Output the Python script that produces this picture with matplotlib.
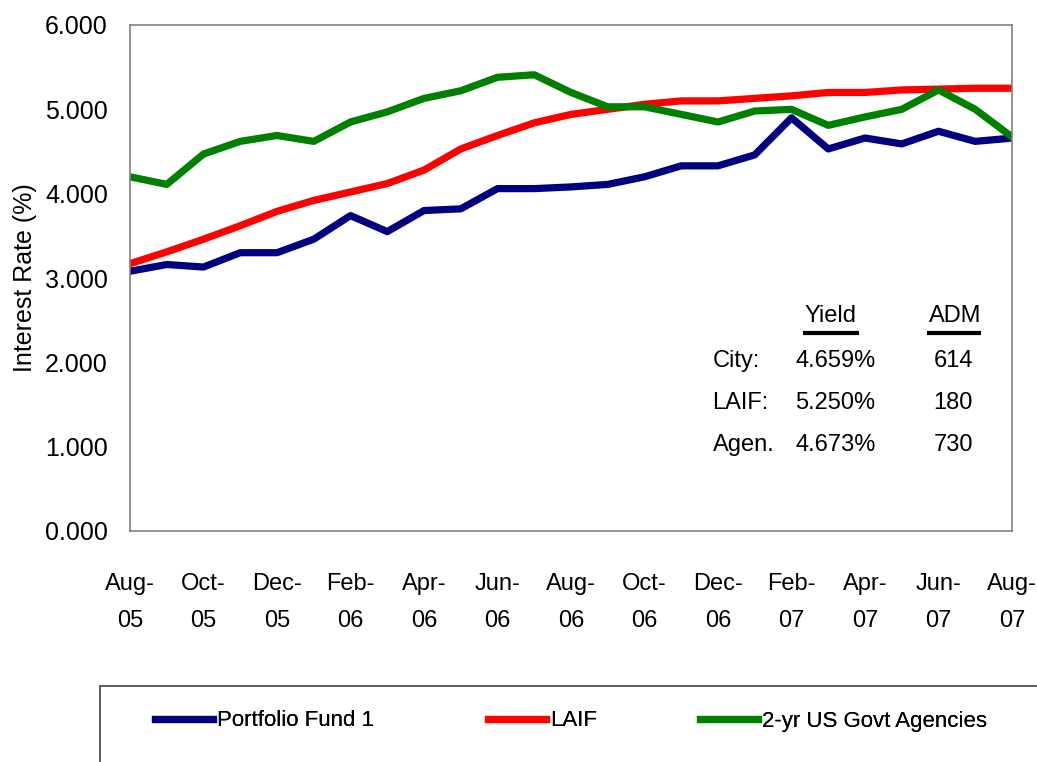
import matplotlib
matplotlib.use('Agg')
import matplotlib.pyplot as plt
from matplotlib import font_manager
from matplotlib.patches import Rectangle

months = ['Aug-05', 'Sep-05', 'Oct-05', 'Nov-05', 'Dec-05', 'Jan-06', 'Feb-06', 'Mar-06',
          'Apr-06', 'May-06', 'Jun-06', 'Jul-06', 'Aug-06', 'Sep-06', 'Oct-06', 'Nov-06',
          'Dec-06', 'Jan-07', 'Feb-07', 'Mar-07', 'Apr-07', 'May-07', 'Jun-07', 'Jul-07',
          'Aug-07']
fund1 = [3.08, 3.16, 3.13, 3.30, 3.30, 3.46, 3.74, 3.55, 3.80, 3.82, 4.06, 4.06, 4.08,
         4.11, 4.20, 4.33, 4.33, 4.46, 4.90, 4.53, 4.66, 4.59, 4.74, 4.62, 4.659]
laif = [3.17, 3.31, 3.46, 3.62, 3.79, 3.92, 4.02, 4.12, 4.28, 4.53, 4.69, 4.84, 4.94,
        5.00, 5.06, 5.10, 5.10, 5.13, 5.16, 5.20, 5.20, 5.23, 5.24, 5.25, 5.25]
agencies = [4.20, 4.11, 4.47, 4.62, 4.69, 4.62, 4.85, 4.97, 5.13, 5.22, 5.38, 5.41, 5.20,
            5.03, 5.03, 4.94, 4.85, 4.98, 5.00, 4.81, 4.91, 5.00, 5.23, 5.00, 4.673]

rows = ['City:', 'LAIF:', 'Agen.']
yields = ['4.659%', '5.250%', '4.673%']
adm = ['614', '180', '730']

names = set(f.name for f in font_manager.fontManager.ttflist)
family = 'Liberation Sans Narrow' if 'Liberation Sans Narrow' in names else 'Liberation Sans'
plt.rcParams['font.family'] = [family, 'DejaVu Sans']

fig = plt.figure(figsize=(10.37, 7.62), dpi=100)
ax = fig.add_axes([130 / 1037, 1 - 531 / 762, 882 / 1037, 506 / 762])

x = list(range(len(months)))
ax.plot(x, fund1, color='#000080', lw=5.2, label='Portfolio Fund 1')
ax.plot(x, laif, color='#ff0000', lw=5.2, label='LAIF')
ax.plot(x, agencies, color='#008000', lw=5.2, label='2-yr US Govt Agencies')

ax.set_xlim(0, len(months) - 1)
ax.set_ylim(0, 6)
ax.set_yticks(range(7))
ax.set_yticklabels([f'{v:.3f}' for v in range(7)], fontsize=18)
ax.set_xticks(x[::2])
ax.set_xticklabels([m.replace('-', '-\n') for m in months[::2]], fontsize=17, linespacing=1.9)
ax.tick_params(length=0)
ax.tick_params(axis='y', pad=16)
ax.tick_params(axis='x', pad=30)
ax.set_ylabel('Interest Rate (%)', fontsize=18, labelpad=6)
for s in ax.spines.values():
    s.set_color('#808080')
    s.set_linewidth(1.2)

# summary table
fs = 17
ax.text(19.05, 2.55, 'Yield', ha='center', va='center', fontsize=fs)
ax.text(22.45, 2.55, 'ADM', ha='center', va='center', fontsize=fs)
ax.hlines(2.35, 18.3, 19.85, color='black', lw=3)
ax.hlines(2.35, 21.7, 23.15, color='black', lw=3)
for i, r in enumerate(rows):
    yy = 2.02 - i * 0.5
    ax.text(15.85, yy, r, ha='left', va='center', fontsize=fs)
    ax.text(18.1, yy, yields[i], ha='left', va='center', fontsize=fs)
    ax.text(22.4, yy, adm[i], ha='center', va='center', fontsize=fs)

fig.patches.append(Rectangle((100 / 1037, -0.1), 1.0, 1 - 686 / 762 + 0.1,
                             transform=fig.transFigure, fill=False,
                             edgecolor='#404040', lw=1.2))
handles, labels = ax.get_legend_handles_labels()
for h, l, px in zip(handles, labels, [155, 488, 700]):
    lg = fig.legend([h], [l], loc='center left', bbox_to_anchor=(px / 1037, 1 - 721 / 762),
                    frameon=False, fontsize=16, handlelength=2.6, handletextpad=0.2,
                    borderpad=0, borderaxespad=0)
    fig.add_artist(lg)

fig.savefig('out.png', dpi=100)
